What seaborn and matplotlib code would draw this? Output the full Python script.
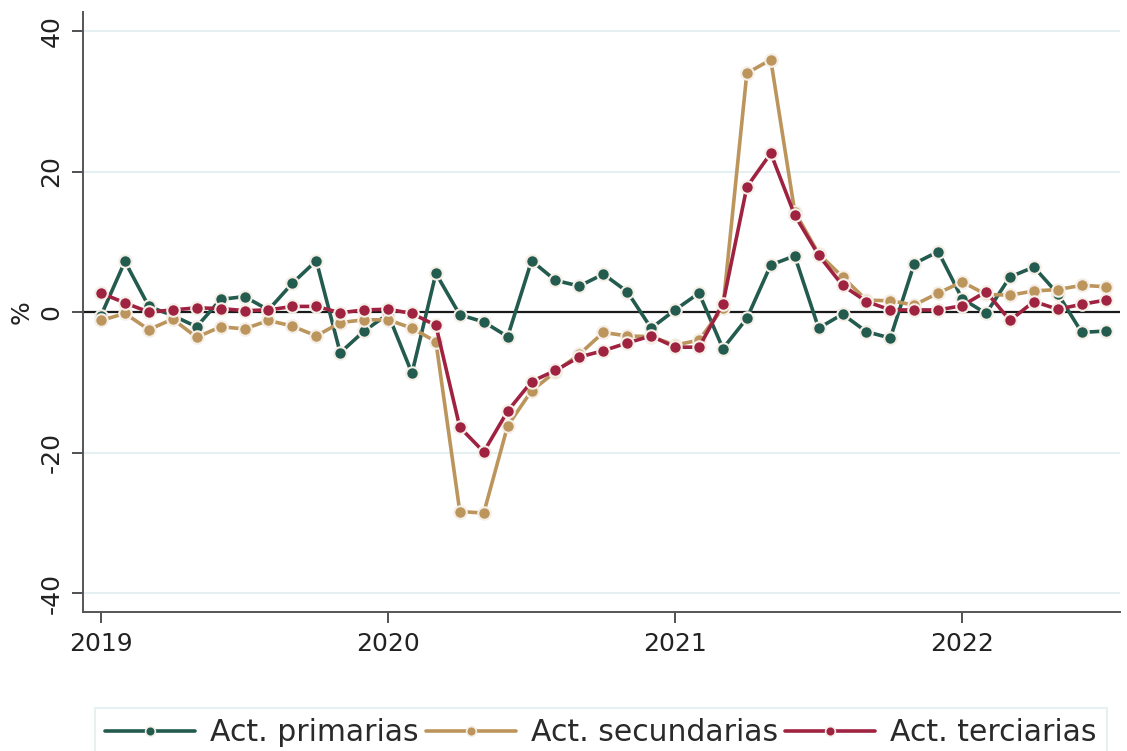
import numpy as np
import pandas as pd
import matplotlib
matplotlib.use("Agg")
import matplotlib.pyplot as plt
import seaborn as sns
from matplotlib.lines import Line2D

# Monthly data, Jan-2019 .. Jul-2022 (index 0..42)
month_index = list(range(43))
year_ticks = [0, 12, 24, 36]
year_labels = ["2019", "2020", "2021", "2022"]

primarias = [-0.5, 7.2, 0.8, -0.5, -2.1, 1.8, 2.2, 0.3, 4.1, 7.3, -5.8, -2.7,
             -0.3, -8.7, 5.5, -0.4, -1.4, -3.5, 7.3, 4.5, 3.7, 5.4, 2.9, -2.3,
             0.3, 2.7, -5.2, -0.9, 6.7, 8.0, -2.3, -0.3, -2.8, -3.7, 6.9, 8.6,
             1.9, -0.2, 5.0, 6.4, 2.6, -2.9, -2.7]
secundarias = [-1.2, -0.2, -2.5, -1.0, -3.6, -2.1, -2.4, -1.2, -2.0, -3.4, -1.5, -1.1,
               -1.1, -2.3, -4.2, -28.4, -28.6, -16.2, -11.2, -8.5, -6.0, -2.9, -3.4, -3.5,
               -4.7, -4.0, 0.6, 34.0, 35.9, 14.3, 8.3, 5.0, 1.7, 1.6, 1.0, 2.7,
               4.3, 2.5, 2.4, 3.0, 3.2, 3.8, 3.6]
terciarias = [2.7, 1.3, 0.0, 0.3, 0.6, 0.5, 0.2, 0.3, 0.8, 0.8, -0.1, 0.3,
              0.4, -0.2, -1.9, -16.4, -19.9, -14.1, -9.9, -8.3, -6.4, -5.5, -4.4, -3.4,
              -5.0, -5.0, 1.2, 17.8, 22.6, 13.8, 8.1, 3.8, 1.5, 0.3, 0.3, 0.3,
              0.9, 2.9, -1.2, 1.5, 0.4, 1.1, 1.7]

series_names = ["Act. primarias", "Act. secundarias", "Act. terciarias"]
colors = ["#235B4E", "#BC955C", "#9F2241"]

df = pd.concat([
    pd.DataFrame({"mes": month_index, "valor": primarias, "serie": series_names[0]}),
    pd.DataFrame({"mes": month_index, "valor": secundarias, "serie": series_names[1]}),
    pd.DataFrame({"mes": month_index, "valor": terciarias, "serie": series_names[2]}),
])

sns.set_theme(style="white")
plt.rcParams["font.family"] = ["DejaVu Sans"]

fig = plt.figure(figsize=(11.27, 7.51), dpi=100)
ax = fig.add_axes([0.0737, 0.185, 0.9201, 0.799])

# grid lines
for g in [-40, -20, 20, 40]:
    ax.axhline(g, color="#e6eff1", lw=1.5, zorder=0)
ax.axhline(0, color="#1a1a1a", lw=1.6, zorder=1)

palette = dict(zip(series_names, colors))
sns.lineplot(data=df, x="mes", y="valor", hue="serie", palette=palette,
             marker="o", markersize=9, markeredgecolor="#f4eee6", markeredgewidth=1.5,
             linewidth=2.6, ax=ax, legend=False, zorder=3)

ax.set_xlim(-0.75, 42.6)
ax.set_ylim(-42.7, 42.7)
ax.set_xticks(year_ticks)
ax.set_xticklabels(year_labels, fontsize=18, color="#222222")
ax.set_yticks([-40, -20, 0, 20, 40])
ax.set_yticklabels(["-40", "-20", "0", "20", "40"], fontsize=18, rotation=90,
                   va="center", color="#222222")
ax.set_xlabel("")
ax.set_ylabel("%", fontsize=18, color="#222222", labelpad=4)
ax.tick_params(axis="both", direction="out", length=8, width=1.2, color="#333333",
               bottom=True, left=True)
ax.tick_params(axis="x", pad=6)
ax.tick_params(axis="y", pad=6)

for s in ["top", "right"]:
    ax.spines[s].set_visible(False)
for s in ["left", "bottom"]:
    ax.spines[s].set_color("#555555")
    ax.spines[s].set_linewidth(1.4)

handles = [Line2D([0], [0], color=c, lw=2.6, marker="o", markersize=7,
                  markeredgecolor="#f4eee6", markeredgewidth=1.2) for c in colors]
leg = fig.legend(handles, series_names, loc="upper left",
                 bbox_to_anchor=(95 / 1127, 1 - 708 / 751), ncol=3, fontsize=21.5,
                 frameon=True, fancybox=False, handlelength=3.0, columnspacing=0.25,
                 handletextpad=0.5, borderpad=0.35, borderaxespad=0)
leg.get_frame().set_edgecolor("#e3eeef")
leg.get_frame().set_linewidth(1.5)
for t in leg.get_texts():
    t.set_color("#2a2a2a")

fig.savefig("out.png", dpi=100)
